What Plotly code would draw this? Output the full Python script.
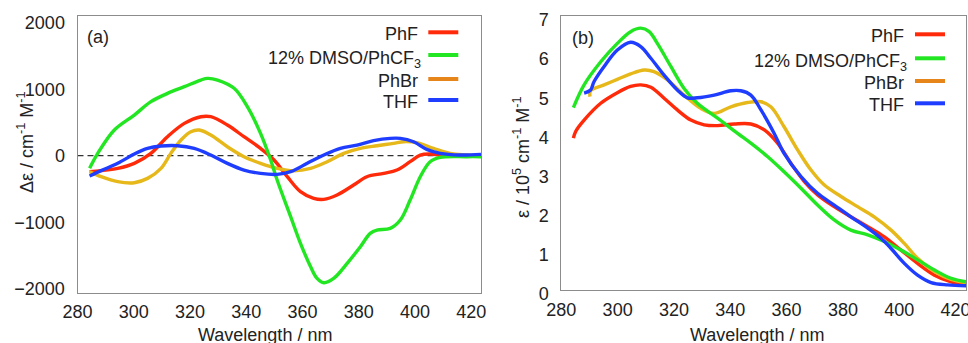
import plotly.graph_objects as go

# ---------------- data: panel (a) CD spectra ----------------
cd_phf_wl = [284.3, 288.4, 294.3, 300.2, 306.1, 312.0, 318.0, 323.9, 327.4, 333.3, 339.2, 345.1, 349.9,
             354.6, 359.3, 364.0, 367.6, 372.3, 378.2, 382.9, 388.9, 393.6, 398.3, 401.9, 405.4, 411.3, 423.5]
cd_phf = [-240, -225, -190, -115, 35, 286, 486, 586, 586, 461, 286, 110, -65,
          -316, -541, -642, -657, -591, -441, -316, -266, -215, -90, 10, 25, -5, -5]

cd_dmso_wl = [284.3, 287.2, 293.1, 300.2, 306.1, 312.0, 318.0, 323.9, 326.2, 329.8, 335.7, 340.4, 345.1,
              348.7, 351.0, 355.8, 359.3, 362.9, 365.2, 367.6, 371.1, 375.9, 380.6, 384.1, 386.5, 391.2,
              394.8, 398.3, 401.9, 405.4, 409.0, 418.4, 423.5]
cd_dmso = [-190, 35, 386, 611, 812, 937, 1038, 1138, 1163, 1138, 1013, 737, 336,
           -65, -366, -917, -1318, -1669, -1845, -1910, -1845, -1619, -1368, -1168, -1118, -1093,
           -967, -667, -316, -90, -25, -15, -15]

cd_phbr_wl = [284.3, 288.4, 294.3, 300.2, 304.9, 309.7, 313.2, 316.8, 320.3, 323.3, 327.4, 333.3, 339.2,
              345.1, 351.0, 356.9, 362.9, 368.8, 374.7, 380.6, 386.5, 392.4, 396.0, 400.7, 406.6, 412.5, 423.5]
cd_phbr = [-240, -316, -391, -406, -341, -190, 35, 236, 361, 386, 311, 135, -15,
           -115, -190, -226, -190, -90, 35, 110, 150, 185, 210, 195, 110, 35, 5]

cd_thf_wl = [284.3, 288.4, 294.3, 300.2, 304.9, 309.7, 315.6, 321.5, 327.4, 333.3, 339.2, 345.1, 351.0,
             355.8, 361.7, 367.6, 373.5, 379.4, 385.3, 391.2, 394.8, 399.5, 404.2, 409.0, 416.0, 423.5]
cd_thf = [-306, -225, -115, 25, 110, 145, 150, 110, 10, -115, -216, -266, -281,
          -241, -115, 10, 110, 160, 226, 261, 261, 210, 95, 35, 10, 20]

# ---------------- data: panel (b) absorption spectra (1e5 M-1 cm-1) ----------------
ab_phf_wl = [284.3, 285.1, 288.1, 294.0, 299.9, 304.6, 308.2, 311.8, 316.5, 321.2, 326.0, 330.7, 335.5,
             341.4, 347.3, 352.1, 356.8, 361.5, 366.3, 371.0, 376.9, 382.8, 388.8, 394.7, 400.6, 406.5,
             412.5, 418.4, 423.7]
ab_phf = [3.88, 4.05, 4.34, 4.77, 5.04, 5.20, 5.24, 5.18, 4.90, 4.60, 4.34, 4.22, 4.20,
          4.24, 4.24, 4.09, 3.75, 3.24, 2.77, 2.43, 2.13, 1.87, 1.62, 1.36, 1.02, 0.68,
          0.38, 0.21, 0.14]

ab_dmso_wl = [284.3, 288.1, 294.0, 299.9, 304.6, 308.2, 311.2, 314.1, 318.9, 323.6, 328.3, 335.5, 342.6,
              347.3, 353.2, 359.1, 365.1, 371.0, 376.9, 382.8, 388.8, 394.7, 400.6, 406.5, 412.5,
              418.4, 423.7]
ab_dmso = [4.66, 5.24, 5.83, 6.30, 6.60, 6.69, 6.60, 6.30, 5.71, 5.15, 4.77, 4.39, 4.00,
           3.75, 3.41, 3.02, 2.60, 2.17, 1.79, 1.53, 1.41, 1.24, 1.02, 0.77, 0.51,
           0.30, 0.21]

ab_phbr_wl = [290.2, 290.4, 295.2, 299.9, 304.6, 309.4, 312.9, 317.7, 323.6, 329.5, 334.3, 340.2, 346.1,
              350.9, 354.4, 359.1, 363.9, 368.6, 373.4, 379.3, 385.2, 391.1, 397.1, 401.8, 406.5,
              412.5, 418.4, 423.7]
ab_phbr = [4.94, 5.09, 5.24, 5.38, 5.52, 5.62, 5.58, 5.37, 4.98, 4.64, 4.51, 4.68, 4.79,
           4.81, 4.68, 4.17, 3.58, 3.07, 2.68, 2.39, 2.13, 1.87, 1.53, 1.19, 0.81,
           0.47, 0.27, 0.19]

ab_thf_wl = [288.1, 290.4, 291.6, 295.2, 299.9, 304.6, 308.2, 311.8, 316.5, 321.2, 324.8, 328.3, 334.3,
             340.2, 343.7, 347.3, 350.9, 355.6, 359.1, 365.1, 371.0, 376.9, 382.8, 388.8, 393.5,
             397.1, 401.8, 406.5, 411.3, 417.2, 423.7]
ab_thf = [5.03, 5.11, 5.32, 5.71, 6.13, 6.33, 6.22, 5.92, 5.49, 5.11, 4.91, 4.91, 4.98,
          5.09, 5.09, 4.98, 4.60, 4.00, 3.49, 2.90, 2.47, 2.17, 1.87, 1.58, 1.32,
          1.06, 0.68, 0.38, 0.19, 0.13, 0.11]

series_names = ["PhF", "12% DMSO/PhCF<sub>3</sub>", "PhBr", "THF"]
x_ticks = [280, 300, 320, 340, 360, 380, 400, 420]
cd_ticks = [-2000, -1000, 0, 1000, 2000]
ab_ticks = [0, 1, 2, 3, 4, 5, 6, 7]

# ---------------- style ----------------
W, H = 968, 343
FONT = "Arial, 'Liberation Sans', sans-serif"
TXT = "#222222"
RED, GREEN, GOLD, ORANGE, BLUE = "#ff2a0a", "#22e622", "#e6b81a", "#e6861a", "#1f3dff"
curve_colors = [RED, GREEN, GOLD, BLUE]
legend_colors = [RED, GREEN, ORANGE, BLUE]
LW = 3.4


def px(x):
    return x / W


def py(y):
    return 1 - y / H


fig = go.Figure()

cd_sets = [(cd_phf_wl, cd_phf), (cd_dmso_wl, cd_dmso), (cd_phbr_wl, cd_phbr), (cd_thf_wl, cd_thf)]
ab_sets = [(ab_phf_wl, ab_phf), (ab_dmso_wl, ab_dmso), (ab_phbr_wl, ab_phbr), (ab_thf_wl, ab_thf)]
draw_order = [0, 2, 1, 3]

for i in draw_order:
    x, y = cd_sets[i]
    fig.add_trace(go.Scatter(x=x, y=y, mode="lines", xaxis="x", yaxis="y", showlegend=False,
                             line=dict(color=curve_colors[i], width=LW, shape="spline", smoothing=1.0),
                             name=series_names[i]))
for i in draw_order:
    x, y = ab_sets[i]
    fig.add_trace(go.Scatter(x=x, y=y, mode="lines", xaxis="x2", yaxis="y2", showlegend=False,
                             line=dict(color=curve_colors[i], width=LW, shape="spline", smoothing=1.0),
                             name=series_names[i]))

axis_common = dict(showgrid=False, zeroline=False, showline=True, linecolor="#8c8c8c", linewidth=1,
                   mirror=True, ticks="", tickfont=dict(family=FONT, size=18, color=TXT),
                   automargin=False, ticklabeloverflow="allow")
x_common = dict(ticklabelstandoff=3, **axis_common)
y_common = dict(ticklabelstandoff=8, **axis_common)

yd = [py(292.7), py(15.7)]
fig.update_layout(
    width=W, height=H, autosize=False,
    margin=dict(l=0, r=0, t=0, b=0, autoexpand=False),
    paper_bgcolor="white", plot_bgcolor="white",
    xaxis=dict(domain=[px(77.5), px(481)], range=[280, 423.5], tickvals=x_ticks, anchor="y", **x_common),
    yaxis=dict(domain=yd, range=[-2060, 2105], tickvals=cd_ticks, anchor="x", **y_common),
    xaxis2=dict(domain=[px(561.3), px(966)], range=[280, 423.7], tickvals=x_ticks, anchor="y2", **x_common),
    yaxis2=dict(domain=[py(290), py(16)], range=[0, 7.0], tickvals=ab_ticks, anchor="x2",
                ticklabelshift=4, **y_common),
)

# zero reference line in (a)
fig.add_shape(type="line", xref="x domain", yref="y", x0=0, x1=1, y0=0, y1=0,
              line=dict(color="#333333", width=1.2, dash="6px,4px"), layer="below")

annots = []
# axis titles
annots.append(dict(x=px(265), y=py(335), text="Wavelength / nm"))
annots.append(dict(x=px(757), y=py(335), text="Wavelength / nm"))
annots.append(dict(x=px(25), y=py(143), text="Δε / cm<sup>-1</sup> M<sup>-1</sup>", textangle=-90))
annots.append(dict(x=px(521), y=py(158), text="ε / 10<sup>5</sup> cm<sup>-1</sup> M<sup>-1</sup>", textangle=-90))
# panel labels
annots.append(dict(x=px(98), y=py(36.7), text="(a)"))
annots.append(dict(x=px(583), y=py(38), text="(b)"))
for a in annots:
    a.update(xref="paper", yref="paper", showarrow=False, xanchor="center", yanchor="middle",
             font=dict(family=FONT, size=18, color=TXT))
    fig.add_annotation(**a)

# manual legends (text left, line sample right)
legend_layout = [
    # (text right x, line x0, line x1, row y list)
    (420.0, 428.3, 458.3, [32.3, 55.0, 79.0, 100.0]),
    (905.5, 915.0, 945.0, [34.3, 58.3, 81.0, 103.3]),
]
for tx, lx0, lx1, rows in legend_layout:
    for k, name in enumerate(series_names):
        yy = rows[k]
        fig.add_shape(type="line", xref="paper", yref="paper", x0=px(lx0), x1=px(lx1), y0=py(yy), y1=py(yy),
                      line=dict(color=legend_colors[k], width=4))
        ty = yy + 2 if k != 1 else yy + 4
        fig.add_annotation(xref="paper", yref="paper", x=px(tx + (3 if k == 1 else 0)), y=py(ty), text=name,
                           showarrow=False, xanchor="right", yanchor="middle",
                           font=dict(family=FONT, size=18, color=TXT))

fig.write_html("out.html")
